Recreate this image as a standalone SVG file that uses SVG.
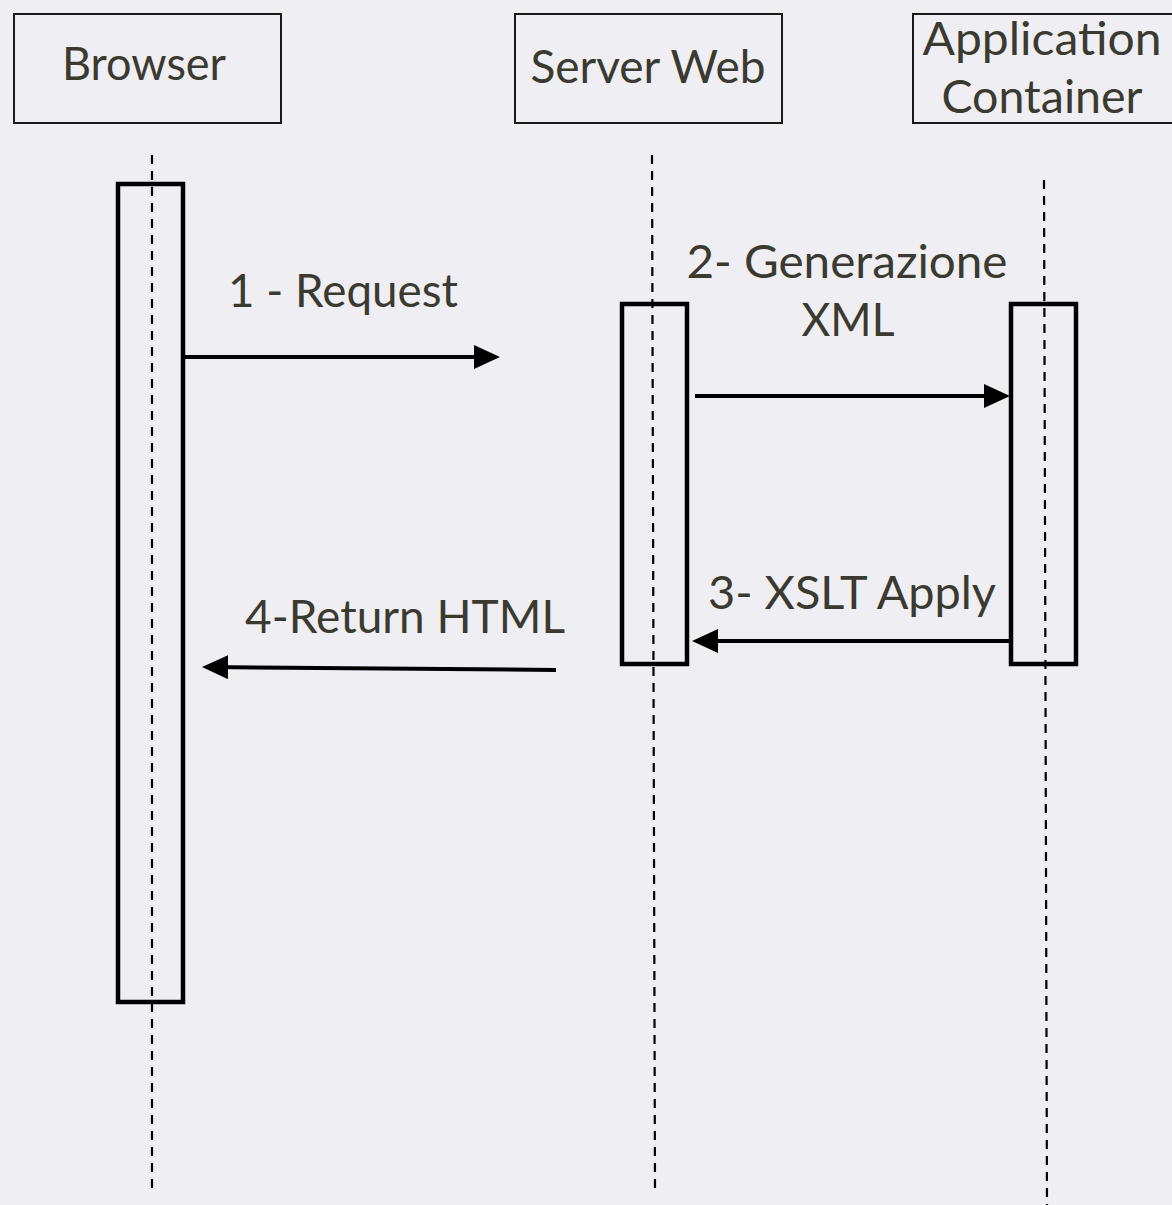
<svg xmlns="http://www.w3.org/2000/svg" width="1172" height="1205" viewBox="0 0 1172 1205">
<style>
.bg{fill:#efeef2}
.head{fill:none;stroke:#1a1a1a;stroke-width:2}
.act{fill:none;stroke:#000;stroke-width:4.5}
.life{stroke:#000;stroke-width:2.2;stroke-dasharray:9 7;fill:none}
.msg{stroke:#000;stroke-width:4;fill:none}
text{font-family:"Lato","Open Sans","Liberation Sans",sans-serif;font-size:46px;fill:#3a3a30}
</style>
<defs>
<marker id="ah" markerUnits="userSpaceOnUse" markerWidth="30" markerHeight="30" refX="18" refY="12" orient="auto">
<path d="M0,0 L26,12 L0,24 Z" fill="#000"/>
</marker>
</defs>
<rect class="bg" x="0" y="0" width="1172" height="1205"/>
<g id="lifelines">
<line class="life" x1="152" y1="155" x2="152" y2="1190"/>
<line class="life" x1="652" y1="155" x2="655" y2="1188"/>
<line class="life" x1="1044" y1="180" x2="1047" y2="1205"/>
</g>
<g id="browser">
<rect class="head" x="14" y="14" width="267" height="109"/>
<text x="144" y="80" text-anchor="middle" textLength="164" lengthAdjust="spacingAndGlyphs">Browser</text>
<rect class="act" x="118" y="184" width="65" height="818"/>
</g>
<g id="server-web">
<rect class="head" x="515" y="14" width="267" height="109"/>
<text x="648" y="83" text-anchor="middle" textLength="235" lengthAdjust="spacingAndGlyphs">Server Web</text>
<rect class="act" x="622" y="304" width="65" height="360"/>
</g>
<g id="application-container">
<rect class="head" x="913" y="14" width="270" height="109"/>
<text x="1042" y="55" text-anchor="middle" textLength="239" lengthAdjust="spacingAndGlyphs">Application</text>
<text x="1042" y="113" text-anchor="middle" textLength="201" lengthAdjust="spacingAndGlyphs">Container</text>
<rect class="act" x="1011" y="304" width="65" height="360"/>
</g>
<g id="connectors">
<line class="msg" x1="183" y1="357" x2="492" y2="357" marker-end="url(#ah)"/>
<line class="msg" x1="695" y1="396" x2="1002" y2="396" marker-end="url(#ah)"/>
<line class="msg" x1="1009" y1="641" x2="700" y2="641" marker-end="url(#ah)"/>
<line class="msg" x1="556" y1="670" x2="210" y2="667" marker-end="url(#ah)"/>
<text x="343" y="307" text-anchor="middle" textLength="230" lengthAdjust="spacingAndGlyphs">1 - Request</text>
<text x="847" y="278" text-anchor="middle" textLength="321" lengthAdjust="spacingAndGlyphs">2- Generazione</text>
<text x="848" y="336" text-anchor="middle" textLength="93" lengthAdjust="spacingAndGlyphs">XML</text>
<text x="852" y="609" text-anchor="middle" textLength="288" lengthAdjust="spacingAndGlyphs">3- XSLT Apply</text>
<text x="405" y="633" text-anchor="middle" textLength="320" lengthAdjust="spacingAndGlyphs">4-Return HTML</text>
</g>
</svg>
